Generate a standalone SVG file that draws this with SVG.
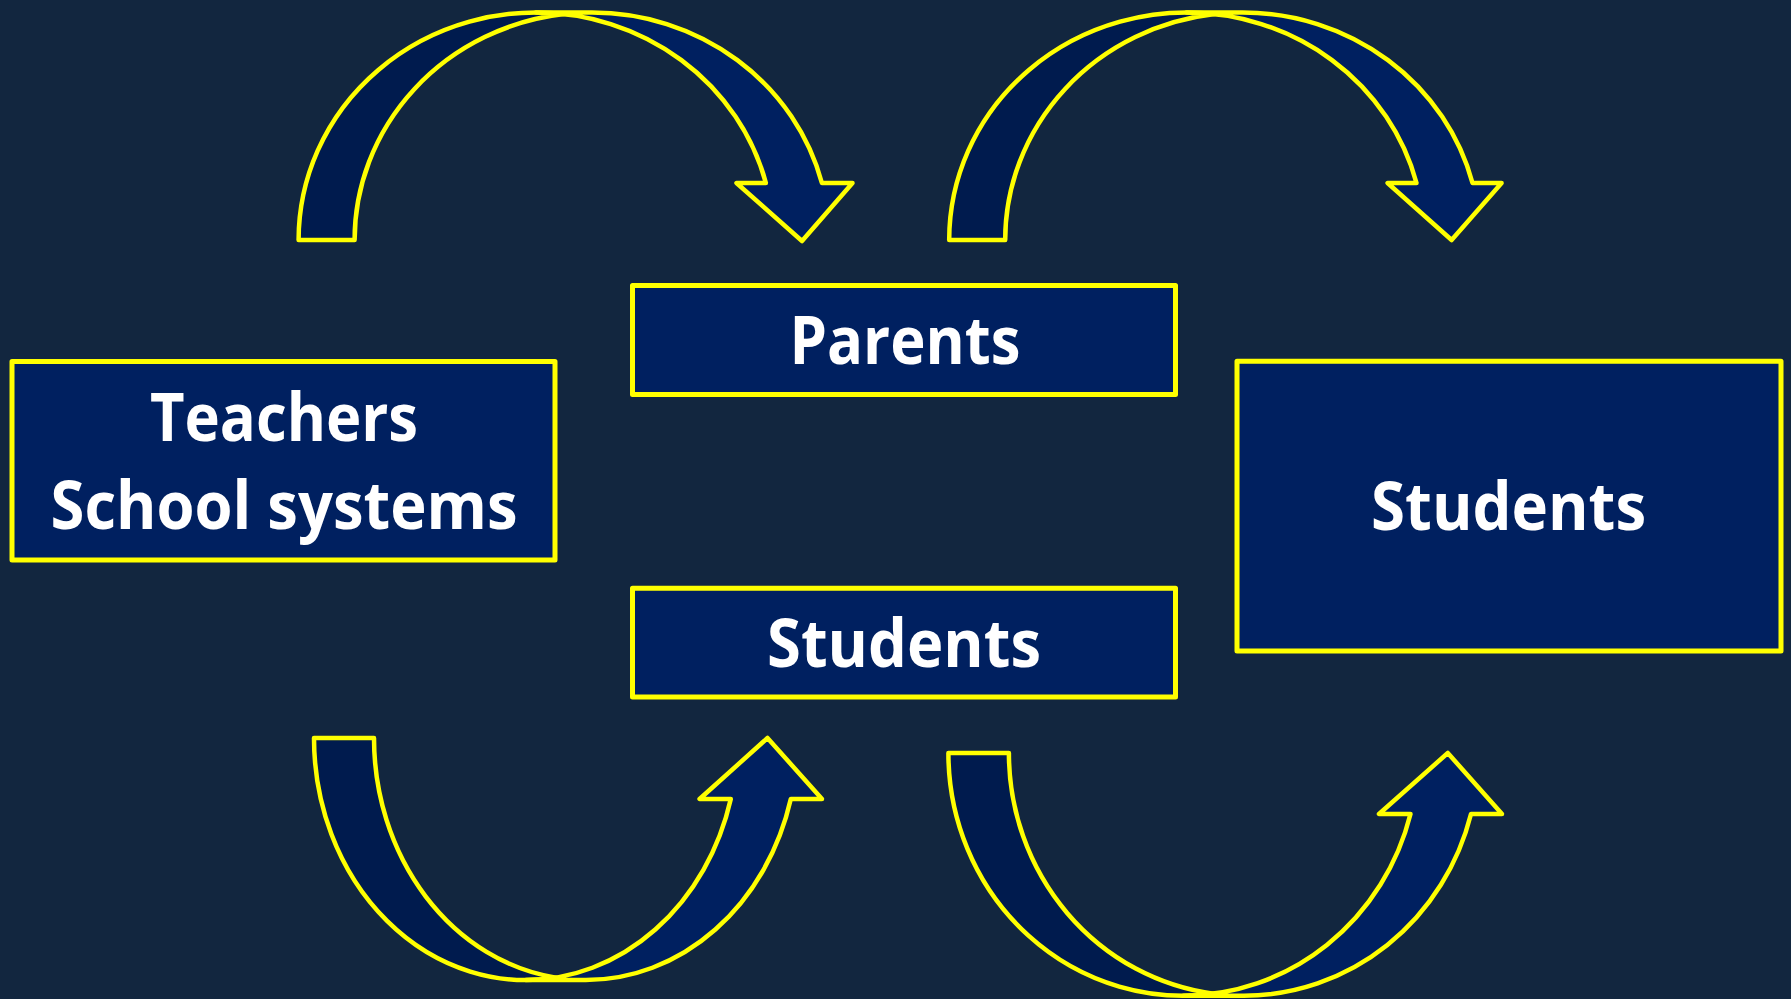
<svg xmlns="http://www.w3.org/2000/svg" width="1791" height="999" viewBox="0 0 1791 999">
<style>
  .box { fill: #002060; stroke: #FFFF00; stroke-width: 5; stroke-linejoin: round; }
  .lbl { fill: #FFFFFF; font-family: "Open Sans", "Noto Sans", "Liberation Sans", sans-serif; font-weight: bold; font-size: 66px; text-anchor: middle; }
  .shadow { fill: #001B4E; stroke: #FFFF00; stroke-width: 4.5; stroke-linejoin: round; }
  .band { fill: #002060; stroke: #FFFF00; stroke-width: 4.5; stroke-linejoin: round; }
</style>
<rect x="0" y="0" width="1791" height="999" fill="#12263F"/>

<g id="connectors">
  <g id="arrow-top-left">
    <path class="shadow" d="M 298.6,240 A 237.4 227.5 0 0 1 564,14.1 A 237.4 227.5 0 0 0 354.6,240 Z"/>
    <path class="band" d="M 802,241 L 736.5,183 L 765.9,183 A 237.4 227.5 0 0 0 536,12.5 L 592,12.5 A 237.4 227.5 0 0 1 821.9,183 L 852.5,183 Z"/>
  </g>
  <g id="arrow-top-right">
    <path class="shadow" d="M 949.2,240 A 237.4 227.5 0 0 1 1214.6,14.1 A 237.4 227.5 0 0 0 1005.2,240 Z"/>
    <path class="band" d="M 1451.6,240 L 1387.6,183 L 1416.5,183 A 237.4 227.5 0 0 0 1186.6,12.5 L 1242.6,12.5 A 237.4 227.5 0 0 1 1472.5,183 L 1501.6,183 Z"/>
  </g>
  <g id="arrow-bottom-left">
    <path class="shadow" d="M 314,738 A 211.8 242 0 0 0 555.8,977.6 A 211.8 242 0 0 1 374,738 Z"/>
    <path class="band" d="M 767.5,738 L 699.6,799 L 730.8,799 A 211.8 242 0 0 1 525.8,980 L 585.8,980 A 211.8 242 0 0 0 790.8,799 L 822,799 Z"/>
  </g>
  <g id="arrow-bottom-right">
    <path class="shadow" d="M 948.4,753 A 234.8 242.7 0 0 0 1213.45,993.7 A 234.8 242.7 0 0 1 1008.9,753 Z"/>
    <path class="band" d="M 1447.8,753 L 1379,814 L 1410.5,814 A 234.8 242.7 0 0 1 1183.2,995.7 L 1243.7,995.7 A 234.8 242.7 0 0 0 1471,814 L 1502,814 Z"/>
  </g>
</g>

<g id="node-teachers">
  <rect class="box" x="12" y="361.5" width="543" height="198.5"/>
  <text class="lbl" x="284" y="440.7" textLength="268" lengthAdjust="spacingAndGlyphs">Teachers</text>
  <text class="lbl" x="284" y="529" textLength="467" lengthAdjust="spacingAndGlyphs">School systems</text>
</g>

<g id="node-parents">
  <rect class="box" x="632.5" y="285.5" width="543" height="109"/>
  <text class="lbl" x="905" y="364" textLength="231" lengthAdjust="spacingAndGlyphs">Parents</text>
</g>

<g id="node-students-middle">
  <rect class="box" x="632.5" y="588.3" width="543" height="108.7"/>
  <text class="lbl" x="904" y="666.7" textLength="274" lengthAdjust="spacingAndGlyphs">Students</text>
</g>

<g id="node-students-right">
  <rect class="box" x="1237" y="361.3" width="544" height="289.7"/>
  <text class="lbl" x="1508.6" y="530" textLength="275" lengthAdjust="spacingAndGlyphs">Students</text>
</g>
</svg>
